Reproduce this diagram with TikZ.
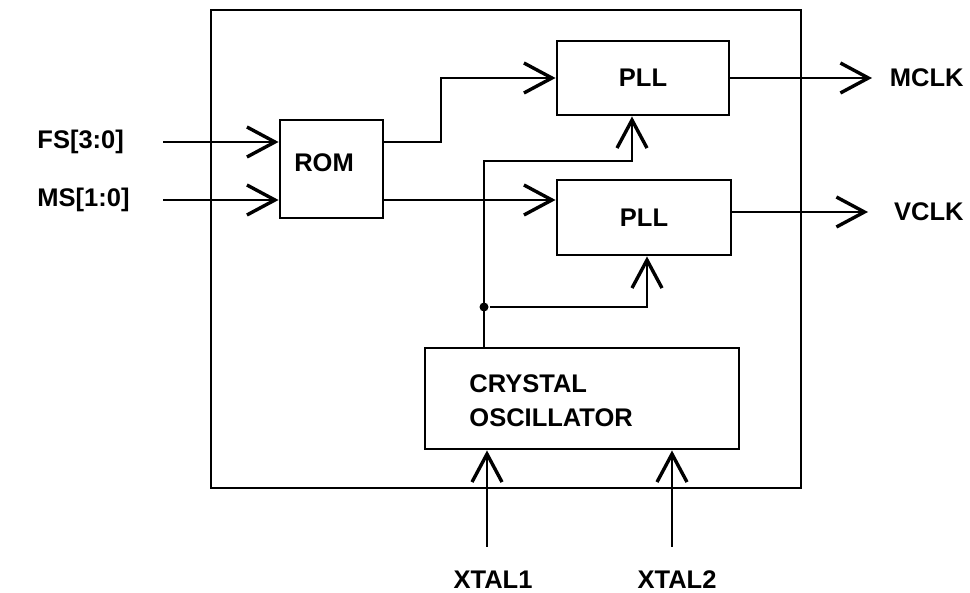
\documentclass[tikz,border=0pt]{standalone}
\usepackage{fontspec}
\setmainfont{Liberation Sans}
\usetikzlibrary{arrows.meta}
\begin{document}
\begin{tikzpicture}[x=1pt,y=-1pt,
  line width=2.9pt,
  box/.style={draw, rectangle, inner sep=0pt},
  lbl/.style={font=\fontsize{25.5}{34}\selectfont\bfseries, inner sep=0pt},
  sig/.style={-{Straight Barb[length=28pt,width=30pt,line width=3.4pt]}},
  dotstyle/.style={circle, fill, inner sep=0pt, minimum size=9pt}]
\useasboundingbox (0,0) rectangle (970,593);
% outer box
\draw (211,10) rectangle (801,488);
% blocks
\node[box, minimum width=103pt, minimum height=98pt] (rom) at (331.5,169) {};
\node[lbl] (romt) at (324,163) {ROM};
\node[box, minimum width=172pt, minimum height=74pt, lbl] (pll1) at (643,78) {PLL};
\node[box, minimum width=174pt, minimum height=75pt, lbl] (pll2) at (644,217.5) {PLL};
\node[box, minimum width=314pt, minimum height=101pt] (osc) at (582,398.5) {};
\node[lbl, anchor=west, align=left] (osct) at (468,401) {CRYSTAL\\OSCILLATOR};
% external labels
\node[lbl, anchor=west] (fs) at (36,142) {FS[3:0]};
\node[lbl, anchor=west] (ms) at (36,200) {MS[1:0]};
\node[lbl, anchor=east] (mclk) at (965,78) {MCLK};
\node[lbl, anchor=east] (vclk) at (965,212) {VCLK};
\node[lbl] (x1) at (493,580) {XTAL1};
\node[lbl] (x2) at (677,580) {XTAL2};
% coordinates
\coordinate (fsin) at (163,142);
\coordinate (msin) at (163,200);
\coordinate (m1) at (872,78);
\coordinate (v1) at (868,212);
\coordinate (x1s) at (487,547);
\coordinate (x2s) at (672,547);
\node[dotstyle] (j) at (484,307) {};
% inputs
\draw[sig] (fsin) -- (fsin -| rom.west);
\draw[sig] (msin) -- (msin -| rom.west);
% ROM to PLLs
\draw[sig] (rom.east |- fsin) -- (441,142) -- (441,78) -- (pll1.west |- 0,78);
\draw[sig] (rom.east |- msin) -- (msin -| pll2.west);
% outputs
\draw[sig] (pll1.east |- m1) -- (m1);
\draw[sig] (pll2.east |- v1) -- (v1);
% oscillator distribution
\draw[sig] (osc.north -| j) -- (484,161) -- (632,161) -- (632,0 |- pll1.south);
\draw[sig] (j) -- (647,307) -- (647,0 |- pll2.south);
% crystal inputs
\draw[sig] (x1s) -- (x1s |- osc.south);
\draw[sig] (x2s) -- (x2s |- osc.south);
\end{tikzpicture}
\end{document}
